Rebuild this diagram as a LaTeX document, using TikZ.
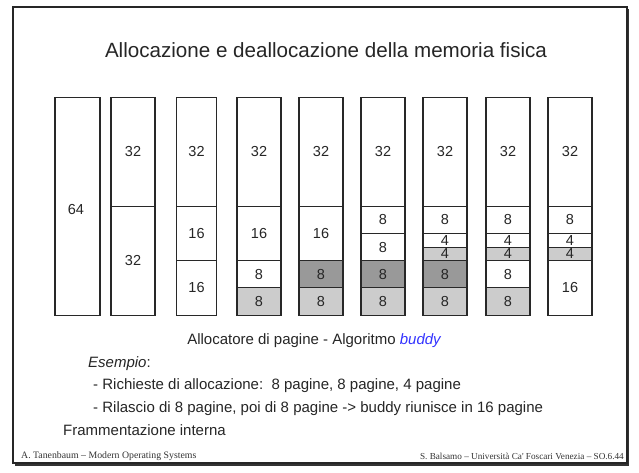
\documentclass[tikz,border=0pt]{standalone}
\usepackage{fontspec}
\setmainfont{Liberation Sans}
\newfontfamily\footfont{Liberation Serif}
\definecolor{lgray}{RGB}{204,204,204}
\definecolor{dgray}{RGB}{153,153,153}
\definecolor{bblue}{RGB}{51,51,255}
\definecolor{edge}{RGB}{40,40,40}
\newcommand\blk[7]{%
  \node[blk, fill=#6, minimum width={(#3-#2)*1pt}, minimum height={(#5-#4)*3.4pt}]
    (#1) at ({(#2+#3)/2},{96.5+(#4+#5)/2*3.4+1}) {#7};}
\begin{document}
\begin{tikzpicture}[x=1pt,y=-1pt,
  blk/.style={draw=edge, line width=1.1pt, inner sep=0pt, outer sep=0pt,
    font=\fontsize{14.5}{16}\selectfont, text=black!85},
  txt/.style={inner sep=0pt, anchor=base west, font=\fontsize{15}{17}\selectfont, text=black!85}]
\useasboundingbox (0,0) rectangle (639,473);
\fill[white] (0,0) rectangle (639,473);
% frame with shadow
\fill[black!80] (15,9) rectangle (629,466);
\draw[black!85, line width=1.3pt, fill=white] (13,7) rectangle (627,463);
% title
\node[inner sep=0pt, anchor=base, font=\fontsize{20.6}{23}\selectfont, text=black!85]
  (title) at (326,58) {Allocazione e deallocazione della memoria fisica};
% column 1
\blk{a1}{55}{100}{0}{64}{white}{}
\node[font=\fontsize{14.5}{16}\selectfont, text=black!85] (l64) at (76,210) {64};
% column 2
\blk{b1}{111}{155}{0}{32}{white}{32}
\blk{b2}{111}{155}{32}{64}{white}{32}
% column 3
\blk{c1}{176.5}{216.5}{0}{32}{white}{32}
\blk{c2}{176.5}{216.5}{32}{48}{white}{16}
\blk{c3}{176.5}{216.5}{48}{64}{white}{16}
% column 4
\blk{d1}{237}{281}{0}{32}{white}{32}
\blk{d2}{237}{281}{32}{48}{white}{16}
\blk{d3}{237}{281}{48}{56}{white}{8}
\blk{d4}{237}{281}{56}{64}{lgray}{8}
% column 5
\blk{e1}{299}{343}{0}{32}{white}{32}
\blk{e2}{299}{343}{32}{48}{white}{16}
\blk{e3}{299}{343}{48}{56}{dgray}{8}
\blk{e4}{299}{343}{56}{64}{lgray}{8}
% column 6
\blk{f1}{361}{405}{0}{32}{white}{32}
\blk{f2}{361}{405}{32}{40}{white}{8}
\blk{f3}{361}{405}{40}{48}{white}{8}
\blk{f4}{361}{405}{48}{56}{dgray}{8}
\blk{f5}{361}{405}{56}{64}{lgray}{8}
% column 7
\blk{g1}{423}{467}{0}{32}{white}{32}
\blk{g2}{423}{467}{32}{40}{white}{8}
\blk{g3}{423}{467}{40}{44}{white}{4}
\blk{g4}{423}{467}{44}{48}{lgray}{4}
\blk{g5}{423}{467}{48}{56}{dgray}{8}
\blk{g6}{423}{467}{56}{64}{lgray}{8}
% column 8
\blk{h1}{486}{530}{0}{32}{white}{32}
\blk{h2}{486}{530}{32}{40}{white}{8}
\blk{h3}{486}{530}{40}{44}{white}{4}
\blk{h4}{486}{530}{44}{48}{lgray}{4}
\blk{h5}{486}{530}{48}{56}{white}{8}
\blk{h6}{486}{530}{56}{64}{lgray}{8}
% column 9
\blk{i1}{548}{592}{0}{32}{white}{32}
\blk{i2}{548}{592}{32}{40}{white}{8}
\blk{i3}{548}{592}{40}{44}{white}{4}
\blk{i4}{548}{592}{44}{48}{lgray}{4}
\blk{i5}{548}{592}{48}{64}{white}{16}
% texts
\node[txt, anchor=base] (cap) at (314,344) {Allocatore di pagine - Algoritmo \textcolor{bblue}{\itshape buddy}};
\node[txt] (es) at (88,367) {\itshape Esempio\upshape:};
\node[txt] (r1) at (93,389) {- Richieste di allocazione:\ \ 8 pagine, 8 pagine, 4 pagine};
\node[txt] (r2) at (93,412) {- Rilascio di 8 pagine, poi di 8 pagine -> buddy riunisce in 16 pagine};
\node[txt] (fi) at (63,435) {Frammentazione interna};
% footers
\node[inner sep=0pt, anchor=base west, font=\footfont\fontsize{9.8}{11}\selectfont, text=black!80]
  (fl) at (21,458) {A. Tanenbaum – Modern Operating Systems};
\node[inner sep=0pt, anchor=base east, font=\footfont\fontsize{9.2}{11}\selectfont, text=black!80]
  (fr) at (624,459) {S. Balsamo – Università Ca' Foscari Venezia – SO.6.44};
\end{tikzpicture}
\end{document}
